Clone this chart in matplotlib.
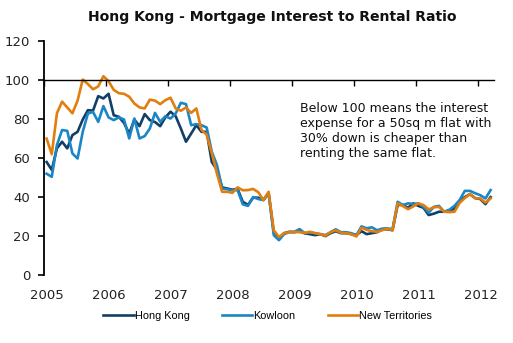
import numpy as np
import matplotlib.pyplot as plt
from matplotlib.transforms import ScaledTranslation

# monthly values, Jan 2005 .. Mar 2012
hong_kong = [58, 54, 65, 68.4, 65, 71.8, 73.5, 79.8, 84.6, 84.4,
             91.8, 90.6, 93, 82, 81.2, 78, 72.6, 79.8, 76.4, 82.6,
             79.5, 78.5, 76.4, 80.9, 83.8, 81.5, 75.2, 68.4, 72.6, 76.9,
             73.5, 73.5, 58, 54, 45, 44.4, 43.8, 44.2, 37.6, 36,
             39.7, 39.7, 38.5, 42, 22, 18.8, 21.5, 22.2, 22, 22.5,
             21.4, 21, 20.5, 21, 20, 21.5, 22.5, 21.5, 21.5, 21,
             20.5, 22.5, 21, 21.5, 22, 23.5, 23.5, 23, 36, 36,
             34.5, 36.8, 35.5, 34.5, 30.8, 31.5, 32.5, 32.5, 33, 34,
             38, 40, 41.5, 39.5, 39, 36.4, 40]
kowloon = [52, 50.4, 66.7, 74.4, 74, 62.4, 59.8, 73.5, 82.9, 83.7,
           78.6, 86.7, 80.9, 79.5, 80.9, 79.8, 70.1, 80.3, 70.1, 71.3,
           75.2, 83.2, 78.6, 81.5, 80.3, 82.9, 88.4, 87.7, 76.9, 77.4,
           76.9, 75.7, 63.2, 56.4, 44.4, 44, 43.5, 43.6, 36.3, 35.5,
           40, 39, 38.5, 42.2, 20.5, 17.9, 21, 22, 22.2, 23.6,
           21.5, 21.8, 21.5, 21, 20.5, 22, 23.5, 22, 22, 21.5,
           20.5, 25, 24, 24.5, 23, 23.8, 24, 23.5, 37.6, 35.9,
           36.8, 36.5, 36.8, 35, 32, 35, 35.5, 32.5, 33.5, 35.5,
           38.5, 43.2, 43.2, 42, 41, 39.3, 43.6]
new_territories = [70, 62, 83, 89, 86, 83, 89.5, 100.3, 98, 95.3,
                   96.8, 102, 99.5, 95, 93.3, 93, 91.5, 88, 86, 85.5,
                   90, 89.5, 87.7, 89.7, 91, 85.5, 84.3, 86, 83.2, 85.5,
                   74.5, 72, 62.5, 52, 42.7, 42.7, 42.2, 45, 43.5, 43.6,
                   44.2, 42.5, 38.5, 42.7, 23, 19.5, 21.5, 22, 22.2, 22,
                   21.7, 22.2, 21.5, 21, 20.2, 22, 23, 21.7, 21.5, 21,
                   19.8, 24.3, 23.2, 22.5, 22.2, 23, 23.8, 23, 36.8, 35.4,
                   33.8, 35.2, 36.8, 35.9, 33.7, 34.8, 35, 32.5, 32.3, 32.5,
                   37, 39.5, 41.5, 39.5, 39.3, 37.2, 39.3]
years = [2005, 2006, 2007, 2008, 2009, 2010, 2011, 2012]
yticks = [0, 20, 40, 60, 80, 100, 120]

months = np.arange(len(hong_kong))
x = 2005 + (months + 0.5) / 12.0

fig = plt.figure(figsize=(5.13, 3.43), dpi=100)
ax = fig.add_axes([0.0858, 0.198, 0.878, 0.682])

ax.plot(x, hong_kong, color='#123f66', lw=1.9, label='Hong Kong')
ax.plot(x, kowloon, color='#1a86c6', lw=1.9, label='Kowloon')
ax.plot(x, new_territories, color='#e27e0e', lw=1.9, label='New Territories')

ax.set_xlim(2005, 2012.27)
ax.set_ylim(0, 120)
ax.spines['top'].set_visible(False)
ax.spines['right'].set_visible(False)
ax.spines['left'].set_linewidth(1.3)
ax.spines['bottom'].set_position(('data', 100))
ax.spines['bottom'].set_linewidth(1.0)
ax.set_xticks(years)
ax.tick_params(axis='x', direction='out', length=4, width=1, labelbottom=False)
ax.set_yticks(yticks)
ax.tick_params(axis='y', direction='out', length=4, width=1.2, pad=6,
               labelsize=9.5, labelcolor='#222222')

# year labels sit at the bottom, the axis line itself sits at 100
sec = ax.secondary_xaxis('bottom')
sec.set_xticks(years)
sec.spines['bottom'].set_visible(False)
sec.tick_params(length=0, pad=10, labelsize=9.5, labelcolor='#222222')
for lbl in sec.get_xticklabels():
    lbl.set_transform(lbl.get_transform() + ScaledTranslation(0.03, 0, fig.dpi_scale_trans))

fig.text(0.531, 0.95, 'Hong Kong - Mortgage Interest to Rental Ratio',
         ha='center', va='center', fontsize=10.1, fontweight='bold', color='#111111')

fig.text(0.585, 0.703, 'Below 100 means the interest\nexpense for a 50sq m flat with\n'
         '30% down is cheaper than\nrenting the same flat.',
         ha='left', va='top', fontsize=9, linespacing=1.2, color='#111111')

fig.legend(loc='center', bbox_to_anchor=(0.522, 0.079), ncol=3, frameon=False,
           prop={'family': 'Liberation Sans', 'size': 7.8},
           handlelength=2.8, handletextpad=0.1, columnspacing=3.0)

fig.savefig('out.png', dpi=100)
